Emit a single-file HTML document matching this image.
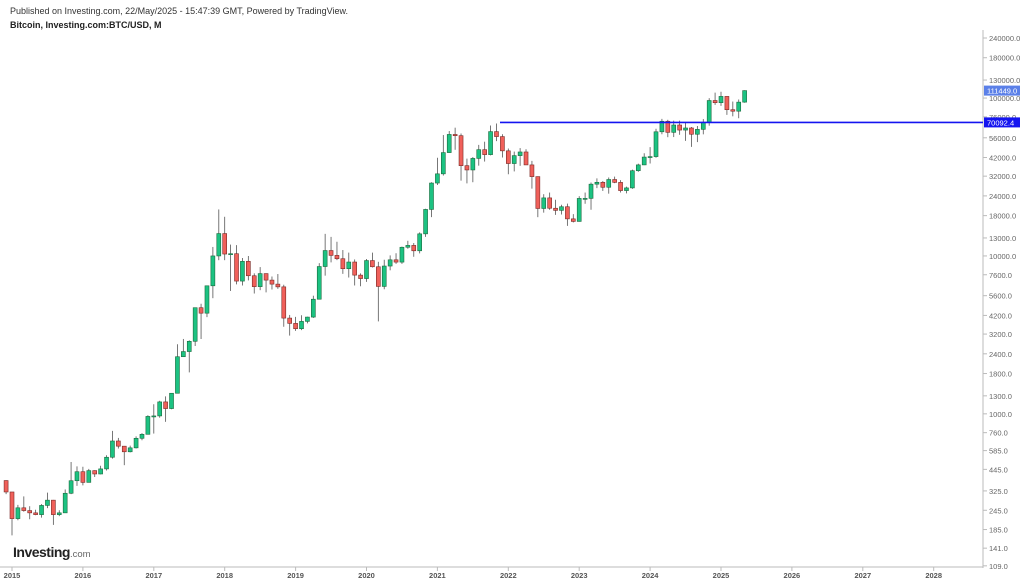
<!DOCTYPE html>
<html><head><meta charset="utf-8"><style>
body{margin:0;background:#fff;width:1024px;height:583px;overflow:hidden;font-family:"Liberation Sans",sans-serif}
svg{position:absolute;left:0;top:0}
</style></head><body>
<svg id="c" width="1024" height="583">
<text x="10" y="14" font-size="9" fill="#333">Published on Investing.com, 22/May/2025 - 15:47:39 GMT, Powered by TradingView.</text>
<text x="10" y="28" font-size="9" font-weight="bold" fill="#222">Bitcoin, Investing.com:BTC/USD, M</text>
<text x="13" y="557" font-size="14" font-weight="bold" fill="#222" letter-spacing="-0.5">Investing<tspan font-weight="normal" font-size="9.5" fill="#666" letter-spacing="0">.com</tspan></text>
<line x1="983" y1="30" x2="983" y2="568" stroke="#bbb"/>
<line x1="0" y1="567" x2="983" y2="567" stroke="#bbb"/>
<g id="g"></g>
</svg>
<script>
const yTicks=[240000,180000,130000,100000,76000,56000,42000,32000,24000,18000,13000,10000,7600,5600,4200,3200,2400,1800,1300,1000,760,585,445,325,245,185,141,109];
const years=[2015,2016,2017,2018,2019,2020,2021,2022,2023,2024,2025,2026,2027,2028];
const opens=[378,320,217,254,244,236,230,263,284,230,236,314,377,430,368,437,416,448,531,673,624,575,609,700,742,963,970,1190,1080,1350,2300,2480,2880,4700,4340,6470,10000,13860,10280,10330,6930,9240,7490,6390,7730,7030,6630,6370,4040,3740,3460,3850,4100,5320,8570,10820,10080,9600,8300,9150,7560,7190,9350,8540,6410,8630,9450,9140,11350,11660,10780,13800,19700,28950,33110,45140,58800,57750,37300,35040,41460,47100,43820,61300,57000,46300,38480,43190,45540,37710,31790,19980,23310,20050,19430,20490,17170,16540,23130,23150,28480,29270,27220,30480,29230,25940,26970,34650,37720,42280,42580,61130,71280,60640,67490,62680,64620,58970,63330,70220,96450,93430,102400,84350,82550,94200];
const highs=[380,320,265,300,260,247,268,317,285,245,332,495,465,462,448,439,469,547,780,704,626,629,720,755,980,1150,1210,1290,1350,2760,2980,2920,4700,4980,6470,11400,19700,17700,11800,11700,9700,9990,7760,8500,7760,7410,7680,6570,4230,4110,4210,4120,5600,9000,13800,13200,12300,10900,10500,9500,7750,9560,10500,9180,9460,10080,10400,11450,12470,12070,14100,19900,29300,41900,58300,61800,64900,59600,41300,42300,50500,52900,67000,69000,59000,47900,45800,48200,47400,40000,31900,24600,25200,22700,21100,21450,18400,23900,25200,29200,31000,29800,31400,31800,30200,27500,35200,38400,44700,48900,63900,73800,72800,71900,71900,70000,65600,66500,73600,99800,108300,109500,102500,95000,97900,111900];
const lows=[310,170,212,240,215,228,220,253,198,225,236,310,350,352,368,398,414,438,520,603,473,570,603,680,740,750,945,890,1070,1350,2300,1830,2690,2980,4100,5400,9400,9400,6000,6600,6500,7000,5780,6070,5880,6130,6190,3560,3130,3350,3390,3740,4050,5300,7500,9100,9400,7700,7300,6500,6430,6850,8450,3850,6150,8110,8900,8900,11100,9880,10380,13200,17600,28150,32300,45000,47000,30000,28800,29300,37300,39600,43300,53300,42000,32900,34300,37200,37700,26700,17600,18800,19600,18200,18300,15500,16300,16500,21400,19600,26900,25800,24800,28900,25200,24900,26600,34100,37600,38500,41900,59000,56500,56600,58500,53500,49100,52600,58900,66800,90500,89200,78200,76600,74500,93400];
const closes=[320,217,254,244,236,230,263,284,230,236,314,377,430,368,437,416,448,531,673,624,575,609,700,742,963,970,1190,1080,1350,2300,2480,2880,4700,4340,6470,10000,13860,10280,10330,6930,9240,7490,6390,7730,7030,6630,6370,4040,3740,3460,3850,4100,5320,8570,10820,10080,9600,8300,9150,7560,7190,9350,8540,6410,8630,9450,9140,11350,11660,10780,13800,19700,28950,33110,45140,58800,57750,37300,35040,41460,47100,43820,61300,57000,46300,38480,43190,45540,37710,31790,19980,23310,20050,19430,20490,17170,16540,23130,23150,28480,29270,27220,30480,29230,25940,26970,34650,37720,42280,42580,61130,71280,60640,67490,62680,64620,58970,63330,70220,96450,93430,102400,84350,82550,94200,111449];
const lastPrice=111449.0, levelPrice=70092.4;

const NS="http://www.w3.org/2000/svg",g=document.getElementById('g');
const Y=v=>38+(Math.log10(240000)-Math.log10(v))*157.9;
const X=i=>12+(i-1)*70.9/12;
function el(t,a,txt){const e=document.createElementNS(NS,t);for(const k in a)e.setAttribute(k,a[k]);if(txt!=null)e.textContent=txt;g.appendChild(e);return e;}
yTicks.forEach(v=>{const y=Y(v);
 const t=el('line',{x1:983,x2:987,y1:y,y2:y,stroke:'#bbb'});
 
 
 const l=el('text',{x:989,y:y+3,'font-size':7.5,fill:'#666'},v.toFixed(1));
 
 
});
years.forEach((yr,k)=>{const x=X(1+12*k);
 const t=el('line',{x1:x,x2:x,y1:567,y2:571,stroke:'#bbb'});
 
 
 const l=el('text',{x:x,y:578,'font-size':7.5,'font-weight':'bold',fill:'#555','text-anchor':'middle'},yr);
 
 
});
opens.forEach((o,i)=>{const c=closes[i],x=X(i),up=c>=o;
 const w=el('line',{x1:x,x2:x,y1:Y(highs[i]),y2:Y(lows[i]),stroke:'#555','stroke-width':0.8});
 
 
 const t=Y(Math.max(o,c)),b=Y(Math.min(o,c));
 const r=el('rect',{x:x-2,y:t,width:4,height:Math.max(1,b-t),fill:up?'#1cc282':'#f0605a',stroke:up?'#1a6a3c':'#7a2a26','stroke-width':0.6});
 
 
});
const ly=Y(levelPrice);
const hl=el('line',{x1:500,x2:983,y1:ly,y2:ly,stroke:'#1414f0','stroke-width':1.6});


[[levelPrice,'#1414f0'],[lastPrice,'#5b80e8']].forEach(([v,col])=>{const y=Y(v);
 const r=el('rect',{x:984,y:y-5,width:36,height:10,fill:col});
 
 
 const t=el('text',{x:987,y:y+3,'font-size':7.5,fill:'#fff'},v.toFixed(1));
 
 
});
</script>
</body></html>
